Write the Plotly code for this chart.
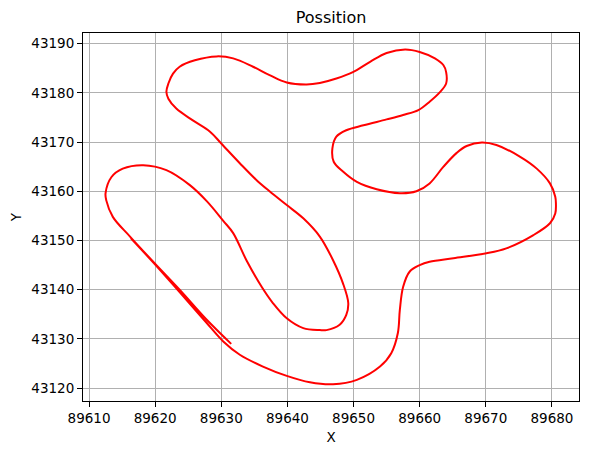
import plotly.graph_objects as go

# ─── Data (track positions) ──────────────────────────────────────────────────

X_POS = [
    89631.5, 89627.8, 89623.7, 89619.7, 89616.2, 89613.6, 89612.6, 89612.5,
    89613.4, 89615.1, 89618.2, 89621.7, 89625.2, 89627.8, 89630.3, 89631.8,
    89633.8, 89636.1, 89637.8, 89639.9, 89642.4, 89644.9, 89645.9, 89647.9,
    89648.9, 89649.2, 89648.4, 89646.9, 89644.9, 89642.4, 89639.9, 89637.3,
    89635.3, 89632.8, 89630.0, 89628.3, 89625.7, 89623.2, 89622.0, 89621.7,
    89622.0, 89622.7, 89623.7, 89626.0, 89629.3, 89631.8, 89634.8, 89637.3,
    89639.9, 89642.9, 89644.9, 89647.4, 89649.9, 89652.5, 89655.0, 89657.8,
    89660.0, 89662.3, 89663.6, 89664.0, 89664.0, 89663.1, 89661.5, 89659.8,
    89657.5, 89655.0, 89651.5, 89648.9, 89647.4, 89646.8, 89647.0, 89648.4,
    89650.5, 89653.5, 89657.0, 89659.5, 89661.5, 89663.6, 89665.6, 89667.1,
    89669.4, 89671.6, 89675.2, 89677.7, 89679.7, 89680.5, 89680.6, 89680.5,
    89679.7, 89677.2, 89673.1, 89670.1, 89665.1, 89661.5, 89660.0, 89658.5,
    89657.5, 89657.0, 89656.7, 89655.7, 89654.0, 89650.5, 89646.9, 89643.4,
    89639.9, 89636.3, 89632.8, 89630.3, 89627.7, 89623.7, 89619.8, 89616.3,
]

Y_POS = [
    43129.0, 43133.9, 43140.0, 43145.7, 43150.8, 43154.8, 43158.2, 43159.6,
    43162.9, 43164.6, 43165.3, 43164.3, 43161.3, 43158.0, 43154.0, 43151.5,
    43146.0, 43140.6, 43137.3, 43134.2, 43132.2, 43131.8, 43131.8, 43132.9,
    43134.9, 43137.3, 43141.3, 43146.0, 43150.8, 43154.5, 43157.2, 43160.0,
    43162.3, 43165.7, 43169.7, 43172.1, 43174.4, 43176.8, 43178.8, 43180.2,
    43181.9, 43183.9, 43185.3, 43186.6, 43187.4, 43187.0, 43185.3, 43183.6,
    43182.1, 43181.7, 43182.0, 43182.9, 43184.2, 43186.3, 43188.1, 43188.8,
    43188.3, 43187.0, 43185.6, 43184.2, 43181.9, 43180.2, 43178.2, 43176.5,
    43175.5, 43174.6, 43173.4, 43172.4, 43171.1, 43168.7, 43166.0, 43164.0,
    43161.9, 43160.4, 43159.6, 43160.0, 43161.6, 43165.0, 43167.8, 43169.2,
    43169.9, 43169.4, 43167.0, 43164.6, 43161.6, 43158.9, 43157.5, 43155.5,
    43153.5, 43151.1, 43148.4, 43147.4, 43146.4, 43145.7, 43145.0, 43143.7,
    43140.6, 43135.9, 43131.2, 43127.1, 43124.4, 43121.7, 43120.8, 43121.2,
    43122.5, 43124.4, 43126.8, 43129.5, 43133.4, 43139.5, 43145.4, 43150.5,
]

X_TICKS = [89610, 89620, 89630, 89640, 89650, 89660, 89670, 89680]
Y_TICKS = [43120, 43130, 43140, 43150, 43160, 43170, 43180, 43190]

# ─── Figure ──────────────────────────────────────────────────────────────────
# page body keeps its default 8px margin, so the figure is 8px smaller each way

FONT = "DejaVu Sans, sans-serif"
GRID = "#b0b0b0"

fig = go.Figure()
fig.add_trace(go.Scatter(
    x=X_POS, y=Y_POS,
    mode="lines",
    line=dict(color="red", width=2, shape="spline", smoothing=1.0),
    showlegend=False,
))

axis_common = dict(
    showline=True, linecolor="black", linewidth=1.1, mirror=True,
    ticks="outside", ticklen=5, tickwidth=1.1, tickcolor="black",
    showgrid=True, gridcolor=GRID, gridwidth=1.1,
    zeroline=False, automargin=False,
    tickfont=dict(family=FONT, size=13.5, color="black"),
)

fig.update_layout(
    width=581, height=447,
    paper_bgcolor="white", plot_bgcolor="white",
    margin=dict(l=75, r=10, t=25, b=54),
    title=dict(text="Possition", x=0.556, xanchor="center", y=0.978, yanchor="middle",
               font=dict(family=FONT, size=16, color="black")),
    xaxis=dict(
        **axis_common,
        range=[89609.09, 89684.09],
        tickvals=X_TICKS, ticktext=[str(v) for v in X_TICKS],
        title=dict(text="X", standoff=7, font=dict(family=FONT, size=13.5, color="black")),
    ),
    yaxis=dict(
        **axis_common,
        range=[43117.4, 43192.15],
        tickvals=Y_TICKS, ticktext=[str(v) for v in Y_TICKS],
        title=dict(text="Y", standoff=6, font=dict(family=FONT, size=13.5, color="black")),
    ),
)

fig.write_html("out.html")
